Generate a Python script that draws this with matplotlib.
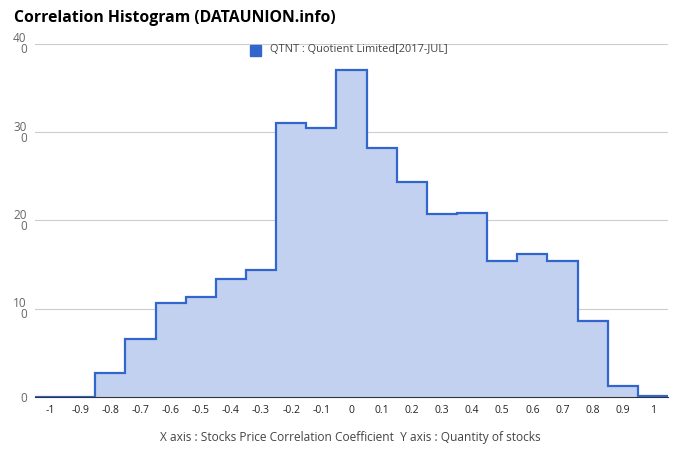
import numpy as np
import matplotlib
matplotlib.use("Agg")
import matplotlib.pyplot as plt

plt.rcParams['font.family'] = ['Open Sans', 'DejaVu Sans']

# histogram bins (correlation coefficient) and stock counts
categories = [-1, -0.9, -0.8, -0.7, -0.6, -0.5, -0.4, -0.3, -0.2, -0.1, 0,
              0.1, 0.2, 0.3, 0.4, 0.5, 0.6, 0.7, 0.8, 0.9, 1]
counts = [0, 0, 27, 66, 107, 113, 134, 144, 310, 305, 370,
          282, 244, 207, 209, 154, 162, 154, 86, 12, 1]
y_ticks = [0, 100, 200, 300, 400]
y_ticklabels = ['0', '10\n0', '20\n0', '30\n0', '40\n0']

centers = np.array(categories)
edges = np.append(centers - 0.05, centers[-1] + 0.05)

fig = plt.figure(figsize=(6.8, 4.62), dpi=100)
ax = fig.add_axes([35 / 680, 65 / 462, 633 / 680, 353 / 462])

ax.stairs(counts, edges, fill=True, color='#c2d1f0', zorder=2)
ax.stairs(counts, edges, color='#3366cc', linewidth=1.6, zorder=3)

ax.set_xlim(edges[0], edges[-1])
ax.set_ylim(0, 400)
ax.set_yticks(y_ticks)
ax.set_yticklabels(y_ticklabels, color='#666666', fontsize=8.5,
                   linespacing=0.8, ha='right')
ax.set_xticks(categories)
ax.set_xticklabels([f'{c:g}' for c in categories], fontsize=7.5, color='#222222')
ax.tick_params(axis='both', length=0)
ax.tick_params(axis='x', pad=6)
ax.tick_params(axis='y', pad=6)
ax.grid(axis='y', color='#cccccc', linewidth=0.8, zorder=1)
for s in ['top', 'right', 'left']:
    ax.spines[s].set_visible(False)
ax.spines['bottom'].set_color('#333333')
ax.spines['bottom'].set_zorder(2.5)

fig.text(14 / 680, 1 - 18 / 462, 'Correlation Histogram (DATAUNION.info)',
         fontsize=11.3, fontweight='bold', va='center', ha='left')

# legend
fig.patches.append(plt.Rectangle((250 / 680, 1 - 56 / 462), 11 / 680, 11 / 462,
                                 transform=fig.transFigure, color='#3366cc'))
fig.text(270 / 680, 1 - 50 / 462, 'QTNT : Quotient Limited[2017-JUL]',
         fontsize=7.9, color='#444444', va='center', ha='left')

fig.text(350 / 680, 1 - 438 / 462,
         'X axis : Stocks Price Correlation Coefficient  Y axis : Quantity of stocks',
         fontsize=8.6, color='#444444', va='center', ha='center')

fig.savefig('out.png', dpi=100)
